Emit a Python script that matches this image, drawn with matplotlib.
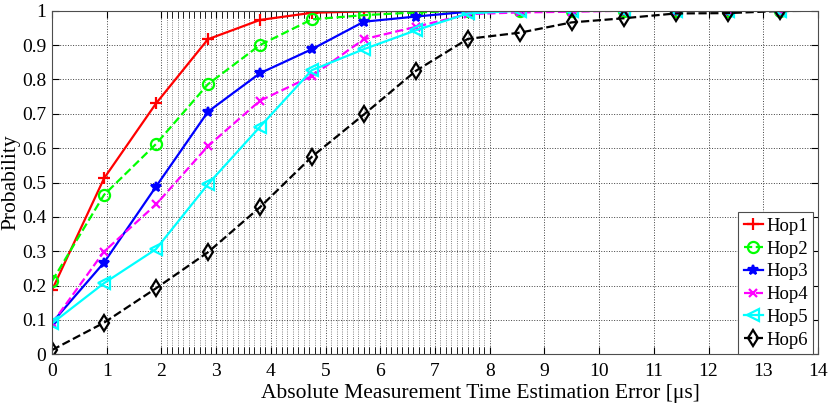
import matplotlib
matplotlib.use('Agg')
import matplotlib.pyplot as plt
import numpy as np
from matplotlib.ticker import FixedLocator, FuncFormatter

plt.rcParams['font.family'] = ['Liberation Serif', 'DejaVu Serif']
plt.rcParams['mathtext.fontset'] = 'stix'

# error bins (us), step 0.95
x = np.arange(16) * 0.95

hop1 = [0.187, 0.512, 0.730, 0.917, 0.973, 0.994, 0.998, 1.0, 1.0, 1.0, 1.0, 1.0, 1.0, 1.0, 1.0, 1.0]
hop2 = [0.213, 0.464, 0.612, 0.786, 0.900, 0.975, 0.987, 0.995, 1.0, 1.0, 1.0, 1.0, 1.0, 1.0, 1.0, 1.0]
hop3 = [0.092, 0.267, 0.488, 0.706, 0.818, 0.888, 0.968, 0.983, 0.997, 1.0, 1.0, 1.0, 1.0, 1.0, 1.0, 1.0]
hop4 = [0.090, 0.299, 0.436, 0.606, 0.738, 0.810, 0.917, 0.953, 0.990, 0.995, 0.997, 1.0, 1.0, 1.0, 1.0, 1.0]
hop5 = [0.090, 0.207, 0.306, 0.495, 0.662, 0.827, 0.888, 0.943, 0.992, 1.0, 1.0, 1.0, 1.0, 1.0, 1.0, 1.0]
hop6 = [0.0125, 0.092, 0.192, 0.297, 0.428, 0.575, 0.698, 0.825, 0.918, 0.936, 0.966, 0.978, 0.992, 0.993, 0.999, 1.0]

labels = ['Hop1', 'Hop2', 'Hop3', 'Hop4', 'Hop5', 'Hop6']
series = [hop1, hop2, hop3, hop4, hop5, hop6]
colors = ['#ff0000', '#00ff00', '#0000ff', '#ff00ff', '#00ffff', '#000000']
styles = ['-', '--', '-', '--', '-', '--']
markers = ['+', 'o', '*', 'x', '<', 'd']
msizes = [9, 8, 7, 6, 9, 8]

fig = plt.figure(figsize=(8.3, 4.04), dpi=100)
ax = fig.add_axes([0.0627, 0.123, 0.9228, 0.8505])

for y, lab, c, ls, m, ms in zip(series, labels, colors, styles, markers, msizes):
    filled = m in ('*',)
    ax.plot(x, y, color=c, linestyle=ls, linewidth=1.6, marker=m, markersize=ms,
            markerfacecolor=c if filled else 'none', markeredgecolor=c,
            markeredgewidth=1.6, label=lab, clip_on=True)

ax.set_xlim(0, 14)
ax.set_ylim(0, 1)
ax.set_xticks(np.arange(0, 15, 1))
ax.set_yticks(np.arange(0, 1.01, 0.1))
ax.yaxis.set_major_formatter(FuncFormatter(lambda v, p: '%g' % round(v, 1)))
minor = [v for v in np.round(np.arange(2.0, 8.001, 0.1), 1) if abs(v - round(v)) > 1e-6]
ax.xaxis.set_minor_locator(FixedLocator(minor))

ax.grid(True, which='major', linestyle=':', color='0.25', linewidth=0.7)
ax.grid(True, which='minor', axis='x', linestyle=':', color='0.35', linewidth=0.6)

ax.tick_params(which='both', direction='in', top=True, right=True, labelsize=14, width=0.8)
ax.tick_params(which='major', length=5)
ax.tick_params(which='minor', length=5, width=0.6)
ax.tick_params(axis='x', pad=6)
ax.tick_params(axis='y', pad=4)
for s in ax.spines.values():
    s.set_linewidth(0.8)
    s.set_color('0.3')

ax.set_xlabel('Absolute Measurement Time Estimation Error [μs]', fontsize=15.5, labelpad=0)
ax.xaxis.set_label_coords(0.559, -0.085)
ax.set_ylabel('Probability', fontsize=15.5, labelpad=1)

leg = ax.legend(loc='lower right', bbox_to_anchor=(0.994, 0.0), fontsize=13.5,
                handlelength=1.05, handletextpad=0.15,
                borderpad=0.3, labelspacing=0.3, fancybox=False, framealpha=1,
                borderaxespad=0.0)
leg.get_frame().set_edgecolor('0.3')
leg.get_frame().set_linewidth(0.8)

fig.savefig('out.png', dpi=100)
